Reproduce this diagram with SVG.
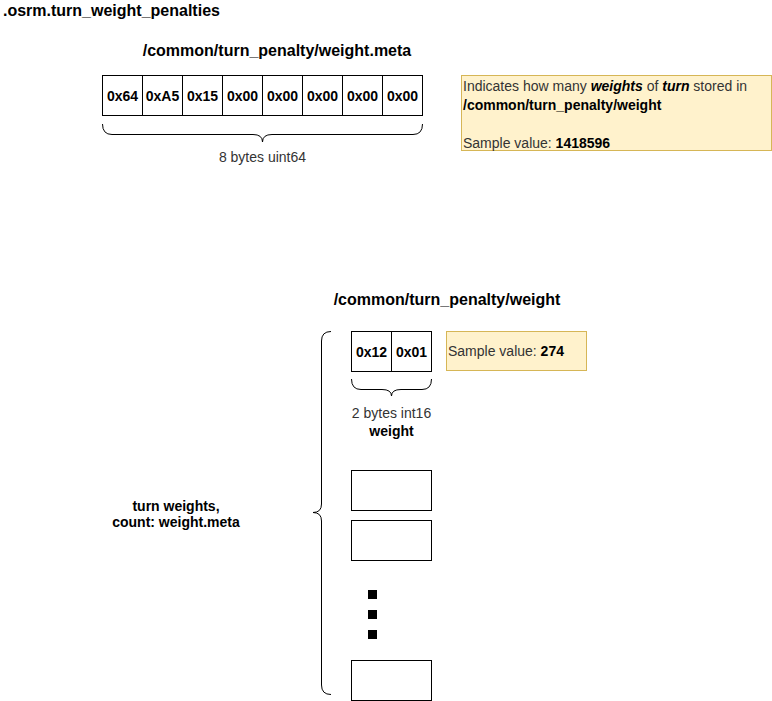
<svg xmlns="http://www.w3.org/2000/svg" width="772" height="701" viewBox="0 0 772 701">
<style>
text{font-family:"Liberation Sans",Arial,sans-serif;}
.b{font-weight:bold;fill:#000;}
.r{fill:#333;}
.cell{fill:#fff;stroke:#000;stroke-width:1;}
.ct{font-size:14px;font-weight:bold;text-anchor:middle;fill:#000;}
.note{fill:#fff2cc;stroke:#d6b656;stroke-width:1;}
.brace{fill:none;stroke:#000;stroke-width:1;}
</style>
<rect width="772" height="701" fill="#fff"/>
<g id="title"><text x="3" y="16" class="b" font-size="16">.osrm.turn_weight_penalties</text></g>
<g id="meta-label"><text x="277" y="56" class="b" font-size="16" text-anchor="middle">/common/turn_penalty/weight.meta</text></g>
<g id="meta-bytes">
<rect class="cell" x="102.5" y="75.5" width="40" height="40"/>
<rect class="cell" x="142.5" y="75.5" width="40" height="40"/>
<rect class="cell" x="182.5" y="75.5" width="40" height="40"/>
<rect class="cell" x="222.5" y="75.5" width="40" height="40"/>
<rect class="cell" x="262.5" y="75.5" width="40" height="40"/>
<rect class="cell" x="302.5" y="75.5" width="40" height="40"/>
<rect class="cell" x="342.5" y="75.5" width="40" height="40"/>
<rect class="cell" x="382.5" y="75.5" width="40" height="40"/>
<text class="ct" x="122.5" y="100.5">0x64</text>
<text class="ct" x="162.5" y="100.5">0xA5</text>
<text class="ct" x="202.5" y="100.5">0x15</text>
<text class="ct" x="242.5" y="100.5">0x00</text>
<text class="ct" x="282.5" y="100.5">0x00</text>
<text class="ct" x="322.5" y="100.5">0x00</text>
<text class="ct" x="362.5" y="100.5">0x00</text>
<text class="ct" x="402.5" y="100.5">0x00</text>
</g>
<g id="meta-brace">
<path class="brace" d="M102.5,124 Q102.5,134.5 112,134.5 L253,134.5 Q262.5,134.5 262.5,142 Q262.5,134.5 272,134.5 L413,134.5 Q422.5,134.5 422.5,124"/>
<text x="262.5" y="162" class="r" font-size="14" text-anchor="middle">8 bytes uint64</text>
</g>
<g id="meta-note">
<rect class="note" x="461.5" y="75.5" width="310" height="75"/>
<text x="463" y="91" class="r" font-size="14">Indicates how many <tspan class="b" font-style="italic">weights</tspan> of <tspan class="b" font-style="italic">turn</tspan> stored in</text>
<text x="463" y="110" class="b" font-size="14">/common/turn_penalty/weight</text>
<text x="463" y="148" class="r" font-size="14">Sample value: <tspan class="b">1418596</tspan></text>
</g>
<g id="weight-label"><text x="447" y="305" class="b" font-size="16" text-anchor="middle">/common/turn_penalty/weight</text></g>
<g id="weight-bytes">
<rect class="cell" x="351.5" y="331.5" width="40" height="40"/>
<rect class="cell" x="391.5" y="331.5" width="40" height="40"/>
<text class="ct" x="371.5" y="356.5">0x12</text>
<text class="ct" x="411.5" y="356.5">0x01</text>
</g>
<g id="weight-note">
<rect class="note" x="446.5" y="331.5" width="140" height="39"/>
<text x="448" y="356" class="r" font-size="14">Sample value: <tspan class="b">274</tspan></text>
</g>
<g id="weight-brace">
<path class="brace" d="M351.5,379 Q351.5,389.5 361,389.5 L382,389.5 Q391.5,389.5 391.5,396 Q391.5,389.5 401,389.5 L422,389.5 Q431.5,389.5 431.5,379"/>
<text x="391.5" y="418" class="r" font-size="14" text-anchor="middle">2 bytes int16</text>
<text x="391.5" y="436" class="b" font-size="14" text-anchor="middle">weight</text>
</g>
<g id="entries">
<rect class="cell" x="351.5" y="470.5" width="80" height="40"/>
<rect class="cell" x="351.5" y="520.5" width="80" height="40"/>
<rect class="cell" x="351.5" y="660.5" width="80" height="40"/>
<rect x="368" y="590" width="9" height="9" fill="#000"/>
<rect x="368" y="610" width="9" height="9" fill="#000"/>
<rect x="368" y="630" width="9" height="9" fill="#000"/>
</g>
<g id="count-brace">
<path class="brace" d="M331,331.5 Q321.5,331.5 321.5,341 L321.5,504 Q321.5,512.5 313,512.5 Q321.5,512.5 321.5,521 L321.5,685 Q321.5,694.5 331,694.5"/>
<text x="176" y="511" class="b" font-size="14" text-anchor="middle">turn weights,</text>
<text x="176" y="527" class="b" font-size="14" text-anchor="middle">count: weight.meta</text>
</g>
</svg>
